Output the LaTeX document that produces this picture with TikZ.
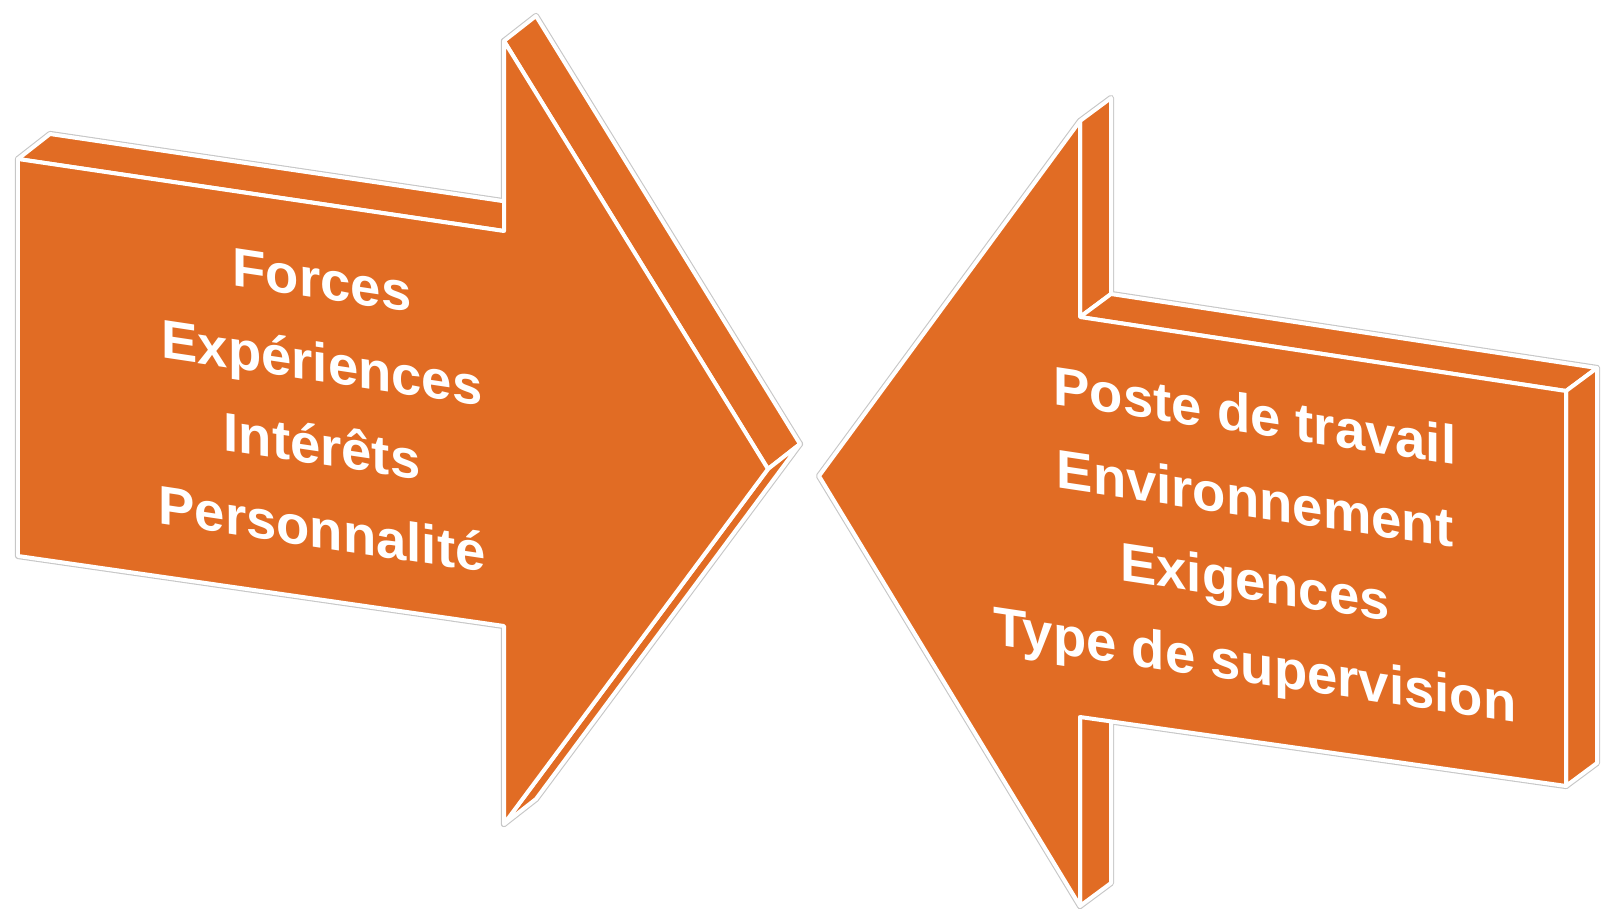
\documentclass[tikz,border=0pt]{standalone}
\usepackage{fontspec}
\setmainfont{Liberation Sans}
\definecolor{arroworange}{RGB}{225,108,36}

\begin{document}
\begin{tikzpicture}[x=0.1mm, y=-0.1mm,
    face/.style={fill=arroworange, draw=white, line width=0.4mm, line join=round},
    halo/.style={draw=black!22, line width=0.62mm, line join=round},
    lbl/.style={text=white, font=\bfseries\fontsize{15.5}{23.6}\selectfont,
                align=center, yslant=-0.15}]
  \useasboundingbox (0,0) rectangle (1605,917);

  % left arrow (points right)
  \coordinate (a1) at (18,159);
  \coordinate (a2) at (504,231);
  \coordinate (a3) at (504,41);
  \coordinate (a4) at (768,469);
  \coordinate (a5) at (504,824);
  \coordinate (a6) at (504,626);
  \coordinate (a7) at (18,556);
  \foreach \p in {a1,a2,a3,a4,a5}
    \coordinate (b\p) at ([shift={(32,-25)}]\p);

  % right arrow (points left)
  \coordinate (c1) at (819,476);
  \coordinate (c2) at (1080,121);
  \coordinate (c3) at (1080,317);
  \coordinate (c4) at (1566,391);
  \coordinate (c5) at (1566,786);
  \coordinate (c6) at (1080,717);
  \coordinate (c7) at (1080,906);
  \foreach \p in {c2,c3,c4,c5,c6,c7}
    \coordinate (b\p) at ([shift={(31,-23)}]\p);

  % grey rim first, then the faces on top
  \foreach \st in {halo,face} {
    \draw[\st] (a1) -- (a2) -- (ba2) -- (ba1) -- cycle;
    \draw[\st] (a3) -- (a4) -- (ba4) -- (ba3) -- cycle;
    \draw[\st] (a4) -- (a5) -- (ba5) -- (ba4) -- cycle;
    \draw[\st] (a1) -- (a2) -- (a3) -- (a4) -- (a5) -- (a6) -- (a7) -- cycle;

    \draw[\st] (c2) -- (c3) -- (bc3) -- (bc2) -- cycle;
    \draw[\st] (c3) -- (c4) -- (bc4) -- (bc3) -- cycle;
    \draw[\st] (c4) -- (c5) -- (bc5) -- (bc4) -- cycle;
    \draw[\st] (c6) -- (c7) -- (bc7) -- (bc6) -- cycle;
    \draw[\st] (c1) -- (c2) -- (c3) -- (c4) -- (c5) -- (c6) -- (c7) -- cycle;
  }

  \node (self) [lbl] at (322,405) {Forces\\Expériences\\Intérêts\\Personnalité};
  \node (job) [lbl] at (1255,545) {Poste de travail\\Environnement\\Exigences\\Type de supervision};
\end{tikzpicture}
\end{document}
